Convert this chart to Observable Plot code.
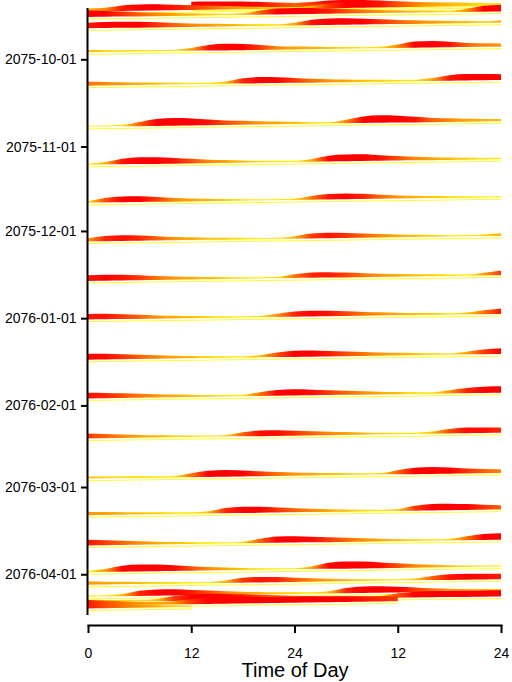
<!DOCTYPE html>
<html><head><meta charset="utf-8">
<script src="https://cdn.jsdelivr.net/npm/d3@7"></script>
<script src="https://cdn.jsdelivr.net/npm/@observablehq/plot@0.6"></script>
<style>
body{margin:0;background:#fff;font-family:Arial,"Liberation Sans",sans-serif}
svg{display:block}
</style>
</head><body><div id="chart"></div>
<script>
// hour of the double-plotted row (0..48)
const hours = [0,2,4,6,8,10,12,14,16,18,20,22,24,26,28,30,32,34,36,38,40,42,44,46,48];
// row start (UTC, hour precision)
const rowDates = [
  "2075-09-13T12","2075-09-14T00","2075-09-16T00","2075-09-20T00",
  "2075-09-28T12","2075-10-10T09","2075-10-25T00","2075-11-07T12",
  "2075-11-21T00","2075-12-04T18","2075-12-18T18","2076-01-01T12",
  "2076-01-15T18","2076-01-29T12","2076-02-12T18","2076-02-27T00",
  "2076-03-11T00","2076-03-21T18","2076-03-31T06","2076-04-04T18",
  "2076-04-09T00","2076-04-10T21","2076-04-12T03","2076-04-13T03"
];
const N = null;
const rowValues = [
  [N,N,N,N,N,N,0.9,0.9,0.88,0.82,0.72,0.6,0.5,0.6,0.8,0.85,0.8,0.7,0.55,0.42,0.32,0.25,0.18,0.12,0.08],
  [0.3,0.4,0.7,0.8,0.8,0.7,0.6,0.5,0.4,0.3,0.22,0.15,0.1,0.3,0.6,0.8,0.8,0.7,0.55,0.42,0.3,0.22,0.15,0.1,0.08],
  [0.85,0.75,0.62,0.5,0.4,0.3,0.22,0.15,0.1,0.15,0.5,0.75,0.82,0.78,0.68,0.55,0.45,0.35,0.27,0.2,0.14,0.1,0.35,0.75,0.88],
  [0.7,0.78,0.8,0.75,0.62,0.5,0.4,0.32,0.25,0.18,0.12,0.1,0.3,0.7,0.85,0.85,0.75,0.62,0.5,0.4,0.32,0.25,0.18,0.12,0.25],
  [0.2,0.15,0.12,0.1,0.08,0.08,0.3,0.7,0.85,0.8,0.6,0.4,0.3,0.25,0.18,0.12,0.08,0.1,0.4,0.8,0.85,0.7,0.5,0.4,0.35],
  [0.45,0.4,0.32,0.25,0.2,0.12,0.08,0.06,0.2,0.65,0.8,0.75,0.6,0.45,0.35,0.28,0.2,0.15,0.1,0.08,0.3,0.7,0.85,0.82,0.75],
  [0.05,0.05,0.1,0.5,0.9,1.0,0.9,0.7,0.55,0.45,0.35,0.28,0.2,0.12,0.08,0.4,0.85,1.0,0.9,0.7,0.5,0.4,0.3,0.25,0.2],
  [0.05,0.25,0.7,0.9,0.85,0.7,0.55,0.4,0.3,0.2,0.12,0.08,0.06,0.3,0.75,0.9,0.88,0.7,0.55,0.4,0.3,0.22,0.15,0.1,0.08],
  [0.1,0.55,0.75,0.75,0.6,0.4,0.3,0.22,0.15,0.1,0.06,0.05,0.1,0.45,0.7,0.75,0.65,0.48,0.35,0.25,0.18,0.12,0.08,0.05,0.05],
  [0.35,0.65,0.72,0.65,0.5,0.35,0.28,0.2,0.15,0.1,0.06,0.05,0.25,0.6,0.7,0.62,0.5,0.38,0.28,0.2,0.14,0.08,0.06,0.12,0.25],
  [0.7,0.75,0.7,0.6,0.45,0.35,0.27,0.2,0.14,0.09,0.06,0.1,0.45,0.65,0.68,0.58,0.45,0.34,0.26,0.2,0.15,0.1,0.07,0.3,0.6],
  [0.7,0.7,0.6,0.48,0.36,0.27,0.2,0.14,0.08,0.05,0.08,0.35,0.65,0.75,0.7,0.58,0.45,0.36,0.28,0.2,0.14,0.08,0.15,0.45,0.7],
  [0.75,0.72,0.62,0.5,0.4,0.3,0.22,0.15,0.1,0.06,0.2,0.55,0.78,0.78,0.68,0.55,0.45,0.35,0.27,0.2,0.12,0.08,0.3,0.6,0.75],
  [0.72,0.65,0.55,0.45,0.35,0.27,0.2,0.13,0.08,0.1,0.45,0.75,0.8,0.72,0.6,0.48,0.38,0.28,0.2,0.12,0.1,0.35,0.65,0.8,0.82],
  [0.6,0.5,0.4,0.3,0.22,0.16,0.1,0.07,0.12,0.5,0.72,0.72,0.62,0.5,0.4,0.3,0.22,0.15,0.1,0.08,0.2,0.55,0.72,0.72,0.65],
  [0.2,0.15,0.12,0.1,0.08,0.08,0.45,0.8,0.85,0.75,0.6,0.45,0.35,0.28,0.2,0.14,0.1,0.12,0.5,0.82,0.88,0.78,0.62,0.5,0.42],
  [0.35,0.3,0.25,0.2,0.15,0.1,0.08,0.2,0.65,0.82,0.78,0.62,0.5,0.38,0.28,0.2,0.12,0.08,0.15,0.6,0.82,0.85,0.75,0.62,0.5],
  [0.7,0.6,0.48,0.38,0.28,0.2,0.14,0.09,0.06,0.12,0.5,0.8,0.82,0.72,0.6,0.48,0.38,0.28,0.2,0.13,0.08,0.12,0.45,0.75,0.85],
  [0.05,0.3,0.75,0.9,0.88,0.72,0.55,0.4,0.28,0.18,0.1,0.06,0.05,0.3,0.78,0.92,0.88,0.72,0.55,0.4,0.28,0.18,0.1,0.06,0.05],
  [0.35,0.3,0.25,0.2,0.15,0.1,0.07,0.06,0.25,0.6,0.7,0.65,0.52,0.4,0.3,0.22,0.15,0.1,0.07,0.15,0.5,0.7,0.75,0.72,0.68],
  [0.05,0.05,0.2,0.65,0.8,0.8,0.68,0.55,0.42,0.32,0.24,0.17,0.12,0.08,0.2,0.65,0.85,0.85,0.75,0.6,0.45,0.35,0.28,0.22,0.18],
  [0.2,0.15,0.12,0.1,0.2,0.6,0.8,0.85,0.8,0.7,0.6,0.5,0.4,0.3,0.22,0.16,0.12,0.2,0.55,0.75,0.8,0.8,0.78,0.8,0.8],
  [0.7,0.55,0.45,0.35,0.3,0.35,0.6,0.8,0.85,0.85,0.8,0.8,0.8,0.8,0.78,0.75,0.7,0.65,0.6,N,N,N,N,N,N],
  [0.7,0.55,0.45,0.35,0.25,0.15,0.1,N,N,N,N,N,N,N,N,N,N,N,N,N,N,N,N,N,N]
];
const xTicks = [0,12,24,36,48];
const xTickLabels = ["0","12","24","12","24"];
const yTicks = ["2075-10-01","2075-11-01","2075-12-01","2076-01-01","2076-02-01","2076-03-01","2076-04-01"];
const xLabel = "Time of Day";
const heatStops = [0, 0.2, 0.4, 0.6, 0.75];
const heatColors = ["#ffff00","#ffc000","#ff8800","#ff3800","#ff0000"];

const HOUR = 36e5, DAY = 864e5;
const parseRow = s => new Date(s + ":00:00Z");
const heat = Plot.scale({color: {type: "linear", domain: heatStops, range: heatColors, clamp: true}});

const rows = rowDates.map((s, i) => {
  const t0 = +parseRow(s);
  const pts = [];
  rowValues[i].forEach((v, j) => {
    if (v == null) return;
    const h = hours[j];
    const base = t0 - h * HOUR;
    pts.push({h, v, base: new Date(base), top: new Date(base - (0.3 + v * 2.4) * DAY)});
  });
  return {i, t0, pts, start: pts[0].h, end: pts[pts.length - 1].h};
});

const yTop = new Date("2075-09-12T18:30:00Z");
const yBottom = new Date("2076-04-19T00:45:00Z");
const yAxisEnd = new Date("2076-04-15T12:00:00Z");

const marks = [
  Plot.link(rows, {
    x1: r => r.start, x2: r => r.end,
    y1: r => new Date(r.t0 + 0.55 * DAY - r.start * HOUR),
    y2: r => new Date(r.t0 + 0.55 * DAY - r.end * HOUR),
    stroke: "#ffff30", strokeWidth: 1
  })
];
rows.forEach(r => {
  marks.push(Plot.area(r.pts, {x1: "h", y1: "base", y2: "top", fill: `url(#rowgrad${r.i})`, curve: "monotone-x"}));
});
marks.push(
  Plot.ruleX([0], {y1: yTop, y2: yAxisEnd, strokeWidth: 2, dx: -1}),
  Plot.axisY(yTicks.map(d => new Date(d)), {tickFormat: d3.utcFormat("%Y-%m-%d"), tickSize: 6, tickPadding: 5, fontSize: 14, strokeWidth: 2, label: null, dx: -1}),
  Plot.frame({anchor: "bottom", strokeWidth: 2}),
  Plot.axisX(xTicks, {tickFormat: d => xTickLabels[xTicks.indexOf(d)], tickSize: 8, tickPadding: 15, fontSize: 14, strokeWidth: 2, label: null}),
  Plot.text([xLabel], {frameAnchor: "bottom", dy: 51, fontSize: 20})
);

const svg = Plot.plot({
  width: 512, height: 682,
  marginLeft: 88, marginRight: 11, marginTop: 8, marginBottom: 57,
  style: {fontFamily: "Arial, 'Liberation Sans', sans-serif", color: "#000", background: "#fff"},
  x: {domain: [0, 48]},
  y: {type: "utc", domain: [yTop, yBottom], reverse: true},
  marks
});

const xs = svg.scale("x");
const defs = d3.select(svg).insert("defs", ":first-child");
rows.forEach(r => {
  const g = defs.append("linearGradient").attr("id", `rowgrad${r.i}`)
    .attr("gradientUnits", "userSpaceOnUse")
    .attr("x1", xs.apply(0)).attr("x2", xs.apply(48)).attr("y1", 0).attr("y2", 0);
  r.pts.forEach(p => g.append("stop").attr("offset", p.h / 48).attr("stop-color", heat.apply(p.v)));
});
document.getElementById("chart").append(svg);
</script>
</body></html>
